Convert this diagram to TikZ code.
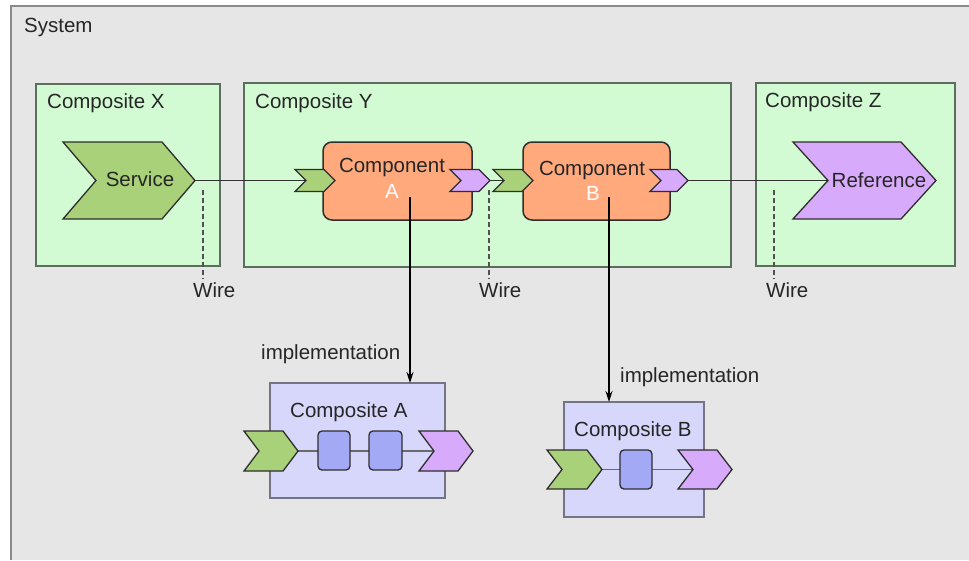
\documentclass[tikz,border=0pt]{standalone}
\usepackage{fontspec}
\setmainfont{Liberation Sans}
\usetikzlibrary{arrows.meta}
\definecolor{sysbg}{HTML}{E6E6E6}
\definecolor{sysborder}{HTML}{8A8A8A}
\definecolor{compfill}{HTML}{D3FBD3}
\definecolor{compborder}{HTML}{5E6E5E}
\definecolor{svcgreen}{HTML}{A9D179}
\definecolor{refpurple}{HTML}{D8AAFB}
\definecolor{comporange}{HTML}{FFA97D}
\definecolor{lavfill}{HTML}{D7D7FB}
\definecolor{lavborder}{HTML}{747484}
\definecolor{miniblue}{HTML}{A4A9F6}
\definecolor{txt}{HTML}{262626}
\definecolor{dark}{HTML}{2E2E2E}
\definecolor{wirecol}{HTML}{333333}
\definecolor{graywire}{HTML}{6A6A6A}
\definecolor{dashcol}{HTML}{505050}
\newcommand\mychevron[7]{% name, L, R, T, B, depth, style
  \draw[#7] (#2,#4) -- ({#3-#6},#4) -- (#3,{(#4+#5)/2}) -- ({#3-#6},#5) -- (#2,#5) -- ({#2+#6},{(#4+#5)/2}) -- cycle;
  \coordinate (#1-tip) at (#3,{(#4+#5)/2});
  \coordinate (#1-notch) at ({#2+#6},{(#4+#5)/2});
}
\begin{document}
\begin{tikzpicture}[x=1pt,y=-1pt,
  font=\fontsize{20.5}{24}\selectfont,
  compbox/.style={fill=compfill, draw=compborder, line width=2pt},
  implbox/.style={fill=lavfill, draw=lavborder, line width=2pt},
  compo/.style={fill=comporange, draw=dark, line width=1.5pt, rounded corners=9pt},
  greenchev/.style={fill=svcgreen, draw=dark, line width=1.3pt, line join=miter},
  purplechev/.style={fill=refpurple, draw=dark, line width=1.3pt, line join=miter},
  wire/.style={draw=wirecol, line width=1.8pt},
  innerwire/.style={draw=graywire, line width=1.8pt},
  dashwire/.style={draw=dashcol, line width=2.4pt, dash pattern=on 5pt off 3pt},
  impl/.style={-{Stealth[length=11pt,width=7pt]}, line width=1.5pt, draw=black},
  lbl/.style={anchor=base west, text=txt, inner sep=0pt},
  ctr/.style={anchor=base, text=txt, inner sep=0pt},
  minibox/.style={fill=miniblue, draw=dark, line width=1.3pt, rounded corners=4pt}]
\useasboundingbox (0,0) rectangle (969,560);
\fill[white] (0,0) rectangle (969,560);
% system
\fill[sysbg] (11,6) rectangle (969,560);
\draw[sysborder, line width=2pt] (11,560) -- (11,6) -- (969,6);
\node[lbl] (system) at (24,32) {System};
% composites
\draw[compbox] (36,84) rectangle (220,266);
\draw[compbox] (244,83) rectangle (731,267);
\draw[compbox] (756,83) rectangle (955,266);
\node[lbl] (cx) at (47,108) {Composite X};
\node[lbl] (cy) at (255,108) {Composite Y};
\node[lbl] (cz) at (765,107) {Composite Z};
% components
\draw[compo] (323,142) rectangle (472,220);
\draw[compo] (523,142) rectangle (670,220);
\node[ctr] (compA) at (392,172) {Component};
\node[ctr, text=white] (compAl) at (392,198) {A};
\node[ctr] (compB) at (592,175) {Component};
\node[ctr, text=white] (compBl) at (593,200) {B};
% wires (under chevrons)
\coordinate (svc-tip0) at (195,180.5);
\coordinate (ain-notch0) at (306,180.5);
\coordinate (aout-tip0) at (490,180.5);
\coordinate (bin-notch0) at (504,180.5);
\coordinate (bout-tip0) at (688,180.5);
\coordinate (ref-notch0) at (828,180.5);
\draw[wire] (svc-tip0) -- (ain-notch0);
\draw[wire] (aout-tip0) -- (bin-notch0);
\draw[wire] (bout-tip0) -- (ref-notch0);
% chevrons
\mychevron{svc}{63}{195}{142}{219}{33}{greenchev}
\mychevron{ref}{793}{936}{142}{219}{35}{purplechev}
\node[text=txt, inner sep=0pt] (service) at (140,179) {Service};
\node[text=txt, inner sep=0pt] (reference) at (879,180) {Reference};
\mychevron{ain}{295}{335}{169.5}{191.5}{11}{greenchev}
\mychevron{aout}{450}{490}{169.5}{191.5}{11}{purplechev}
\mychevron{bin}{493}{533}{169.5}{191.5}{11}{greenchev}
\mychevron{bout}{650}{688}{169.5}{191.5}{11}{purplechev}
% wire labels
\coordinate (w1) at (203,190);
\coordinate (w1e) at (203,279);
\coordinate (w2) at (489,190);
\coordinate (w2e) at (489,279);
\coordinate (w3) at (774,190);
\coordinate (w3e) at (774,279);
\draw[dashwire] (w1) -- (w1e);
\draw[dashwire] (w2) -- (w2e);
\draw[dashwire] (w3) -- (w3e);
\node[lbl] (wire1) at (193,297) {Wire};
\node[lbl] (wire2) at (479,297) {Wire};
\node[lbl] (wire3) at (766,297) {Wire};
% implementation boxes
\draw[implbox] (270,383) rectangle (445,498);
\draw[implbox] (564,402) rectangle (704,517);
\node[lbl] (compositeA) at (290,417) {Composite A};
\node[lbl] (compositeB) at (574,436) {Composite B};
% inner wires A
\coordinate (ia1) at (297,451);
\coordinate (ia2) at (434,451);
\draw[innerwire] (ia1) -- (ia2);
\draw[minibox] (318,431) rectangle (350,470);
\draw[minibox] (369,431) rectangle (402,470);
\mychevron{cain}{244}{298}{431}{471}{15}{greenchev}
\mychevron{caout}{419}{473}{431}{471}{15}{purplechev}
% inner wires B
\coordinate (ib1) at (601,469.5);
\coordinate (ib2) at (693,469.5);
\draw[innerwire] (ib1) -- (ib2);
\draw[minibox] (620,450) rectangle (652,489);
\mychevron{cbin}{547}{602}{450}{489}{15}{greenchev}
\mychevron{cbout}{678}{732}{450}{489}{15}{purplechev}
% implementation arrows
\coordinate (implA-start) at (410,197);
\coordinate (implA-end) at (410,383);
\coordinate (implB-start) at (609,197);
\coordinate (implB-end) at (609,402);
\draw[impl] (implA-start) -- (implA-end);
\draw[impl] (implB-start) -- (implB-end);
\node[lbl] (implA) at (261,359) {implementation};
\node[lbl] (implB) at (620,382) {implementation};
\end{tikzpicture}
\end{document}
